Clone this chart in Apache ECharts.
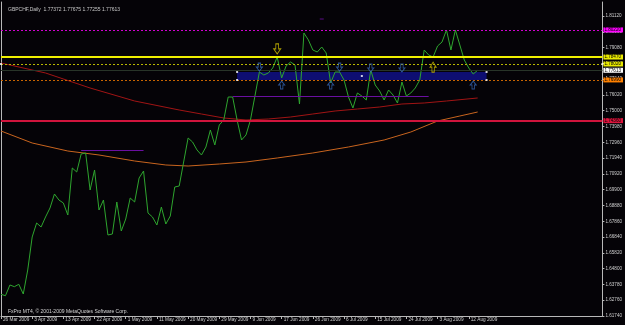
<!DOCTYPE html>
<html>
<head>
<meta charset="utf-8">
<script src="https://cdn.jsdelivr.net/npm/echarts@6/dist/echarts.min.js"></script>
<style>
html, body { margin: 0; padding: 0; background: #050307; }
#chart { width: 625px; height: 325px; }
</style>
</head>
<body>
<div id="chart"></div>
<script>
// dates shown on the time scale, one every 7 bars
var tickLabels = ['26 Mar 2009', '3 Apr 2009', '13 Apr 2009', '22 Apr 2009', '1 May 2009', '11 May 2009',
    '20 May 2009', '29 May 2009', '9 Jun 2009', '17 Jun 2009', '26 Jun 2009', '6 Jul 2009',
    '15 Jul 2009', '24 Jul 2009', '3 Aug 2009', '12 Aug 2009'];
var barCount = 136;

// price scale labels
var priceTicks = [1.81120, 1.80100, 1.79080, 1.78060, 1.77040, 1.76020, 1.75000, 1.73980, 1.72960,
    1.71940, 1.70920, 1.69900, 1.68880, 1.67860, 1.66840, 1.65820, 1.64800, 1.63780, 1.62760, 1.61740];

// daily closes GBPCHF
var closes = [
    1.63142, 1.63051, 1.63743, 1.63633, 1.63788, 1.63161, 1.64712, 1.66844, 1.67748, 1.67490,
    1.68136, 1.68717, 1.69622, 1.69234, 1.69040, 1.68265, 1.71301, 1.71043, 1.72206, 1.72270,
    1.69880, 1.71172, 1.68588, 1.69234, 1.66973, 1.67037, 1.69104, 1.67231, 1.68006, 1.69363,
    1.69104, 1.70655, 1.71107, 1.68394, 1.68136, 1.67619, 1.68781, 1.67683, 1.68200, 1.70073,
    1.70138, 1.71688, 1.73239, 1.72980, 1.72464, 1.72141, 1.72657, 1.73756, 1.72787, 1.74079,
    1.74402, 1.75887, 1.75887, 1.74402, 1.73110, 1.73433, 1.74402, 1.75952, 1.77502, 1.77309,
    1.77438, 1.77761, 1.78471, 1.77115, 1.77890, 1.78148, 1.77955, 1.75435, 1.80022, 1.79570,
    1.78924, 1.78794, 1.79117, 1.78730, 1.76792, 1.77502, 1.77502, 1.76986, 1.75887, 1.75177,
    1.76146, 1.75952, 1.75694, 1.77632, 1.76663, 1.76275, 1.75694, 1.76340, 1.76017, 1.75500,
    1.76856, 1.75952, 1.76146, 1.76469, 1.76986, 1.78924, 1.78601, 1.78471, 1.79182, 1.79440,
    1.80216, 1.78924, 1.80216, 1.79247, 1.78278, 1.77761, 1.77373, 1.77613
];

// moving averages, [bar, price]
var maRed = [[0, 1.78084], [10, 1.77438], [20, 1.76469], [30, 1.75629], [40, 1.75048], [45, 1.74789],
    [50, 1.74531], [55, 1.74402], [60, 1.74466], [65, 1.74595], [70, 1.74789], [75, 1.74983],
    [80, 1.75112], [85, 1.75241], [90, 1.75435], [95, 1.75500], [100, 1.75629], [107, 1.75823]];
var maOrange = [[0, 1.73691], [7, 1.72916], [15, 1.72399], [22, 1.72141], [30, 1.71753], [37, 1.71495],
    [42, 1.71430], [49, 1.71559], [55, 1.71689], [62, 1.71947], [70, 1.72270], [78, 1.72658],
    [86, 1.73110], [92, 1.73627], [98, 1.74337], [103, 1.74660], [107, 1.74918]];

// horizontal levels: magenta, yellow, yellow dotted, bid, orange dotted, red
var levelPrices = [1.80220, 1.78470, 1.78020, 1.77613, 1.76990, 1.74360];
// short purple segments [fromBar, toBar, price]
var segments = [[52, 96, 1.75952], [18, 32, 1.72464]];
// rectangle [fromBar, toBar, top, bottom]
var zone = [53, 109, 1.77502, 1.76986];

var arrowsBlueDown = [[58, 1.77820], [76, 1.77820], [83, 1.77760], [90, 1.77760]];
var arrowsBlueUp = [[63, 1.76660], [74, 1.76660], [106, 1.76660]];
var arrowsYellowDown = [[62, 1.78990]];
var arrowsYellowUp = [[97, 1.77820]];
var anchors = [[53, 1.77502], [53, 1.76986], [109, 1.77502], [109, 1.76986], [81, 1.77244], [0, 1.78020], [135, 1.78020]];
var dash = [[72, 1.80926]];

var categories = [];
for (var i = 0; i < barCount; i++) {
    categories.push(i % 7 === 0 && tickLabels[i / 7] ? tickLabels[i / 7] : '');
}
function showTick(i) { return i % 7 === 0 && i / 7 < tickLabels.length; }

var yMin = 1.61740, yMax = 1.820244;
var txt = '#cfcfcf', axisCol = '#b8b8b8';
var fontFam = 'Liberation Sans';

var levelStyles = [
    { color: '#d000d0', type: [2, 2], width: 1, bg: '#ff00ff' },
    { color: '#f0f000', type: 'solid', width: 2, bg: '#e8e800' },
    { color: '#b8b800', type: [2, 2], width: 1, bg: '#e8e800' },
    { color: '#283428', type: 'solid', width: 1, bg: '#ffffff' },
    { color: '#c86400', type: [2, 2], width: 1, bg: '#ff8000' },
    { color: '#d0143c', type: 'solid', width: 2, bg: '#dc143c' }
];

var lineMarks = levelPrices.map(function (p, k) {
    var s = levelStyles[k];
    return {
        yAxis: p,
        lineStyle: { color: s.color, type: s.type, width: s.width },
        label: {
            show: true, position: 'end', distance: 1,
            formatter: p.toFixed(5), color: '#000', fontSize: 4.6, fontFamily: fontFam,
            backgroundColor: s.bg, padding: [0, 2, 0, 1]
        }
    };
});
segments.forEach(function (s) {
    lineMarks.push([
        { coord: [s[0], s[2]], lineStyle: { color: '#6a0fa0', type: 'solid', width: 1 }, label: { show: false } },
        { coord: [s[1], s[2]] }
    ]);
});

var arrowDown = 'path://M3,0 L7,0 L7,6 L10,6 L5,12 L0,6 L3,6 Z';
var arrowUp = 'path://M5,0 L10,6 L7,6 L7,12 L3,12 L3,6 L0,6 Z';

function arrowSeries(data, path, color, size) {
    return {
        type: 'scatter', data: data, symbol: path, symbolSize: size, symbolKeepAspect: false,
        itemStyle: { color: 'rgba(0,0,0,0)', borderColor: color, borderWidth: 1 },
        silent: true, z: 5
    };
}

var myChart = echarts.init(document.getElementById('chart'));
var option = {
    backgroundColor: '#050307',
    animation: false,
    title: [
        {
            text: 'GBPCHF,Daily  1.77372 1.77675 1.77255 1.77613', left: 3, top: 2,
            textStyle: { color: '#c8c8c8', fontSize: 5, fontWeight: 'normal', fontFamily: fontFam }
        },
        {
            text: 'FxPro MT4, © 2001-2009 MetaQuotes Software Corp.', left: 3, top: 304,
            textStyle: { color: '#d8d8d8', fontSize: 5, fontWeight: 'normal', fontFamily: fontFam }
        }
    ],
    grid: { left: 1, right: 18, top: 2, bottom: 9 },
    xAxis: {
        type: 'category', data: categories, boundaryGap: false,
        axisLine: { lineStyle: { color: axisCol, width: 1 } },
        axisTick: { interval: showTick, length: 3, lineStyle: { color: axisCol } },
        axisLabel: {
            interval: showTick, color: txt, fontSize: 4.7, fontFamily: fontFam,
            align: 'left', margin: 1, padding: [0, 0, 0, 2]
        },
        splitLine: { show: false }
    },
    yAxis: [
        {
            type: 'value', position: 'right', min: yMin, max: yMax,
            axisLine: { show: true, lineStyle: { color: axisCol } },
            axisTick: { show: true, length: 2, customValues: priceTicks, lineStyle: { color: axisCol } },
            axisLabel: {
                customValues: priceTicks, color: txt, fontSize: 4.6, fontFamily: fontFam, margin: 3,
                formatter: function (v) { return v.toFixed(5); }
            },
            splitLine: { show: false }
        },
        {
            type: 'value', position: 'left', min: yMin, max: yMax,
            axisLine: { show: true, lineStyle: { color: axisCol } },
            axisTick: { show: false }, axisLabel: { show: false }, splitLine: { show: false }
        }
    ],
    series: [
        {
            name: 'MA red', type: 'line', data: maRed, showSymbol: false, silent: true, z: 2,
            lineStyle: { color: '#a01414', width: 1 },
            markArea: {
                silent: true, itemStyle: { color: '#0e0e72' },
                data: [[{ xAxis: zone[0], yAxis: zone[2] }, { xAxis: zone[1], yAxis: zone[3] }]]
            }
        },
        {
            name: 'MA orange', type: 'line', data: maOrange, showSymbol: false, silent: true, z: 2,
            lineStyle: { color: '#c8641e', width: 1 }
        },
        {
            name: 'GBPCHF', type: 'line', data: closes, showSymbol: false, silent: true, z: 4,
            lineStyle: { color: '#2ea52e', width: 1 },
            markLine: { silent: true, symbol: ['none', 'none'], precision: 5, data: lineMarks }
        },
        arrowSeries(arrowsBlueDown, arrowDown, '#3466b4', [6, 8]),
        arrowSeries(arrowsBlueUp, arrowUp, '#3466b4', [6, 8]),
        arrowSeries(arrowsYellowDown, arrowDown, '#d2c000', [7, 10]),
        arrowSeries(arrowsYellowUp, arrowUp, '#d2c000', [6, 10]),
        {
            type: 'scatter', data: anchors, symbol: 'rect', symbolSize: 2, silent: true, z: 6,
            itemStyle: { color: '#ffffff' }
        },
        {
            type: 'scatter', data: dash, symbol: 'rect', symbolSize: [4, 1], silent: true, z: 6,
            itemStyle: { color: '#7010a8' }
        }
    ]
};
myChart.setOption(option);
</script>
</body>
</html>
